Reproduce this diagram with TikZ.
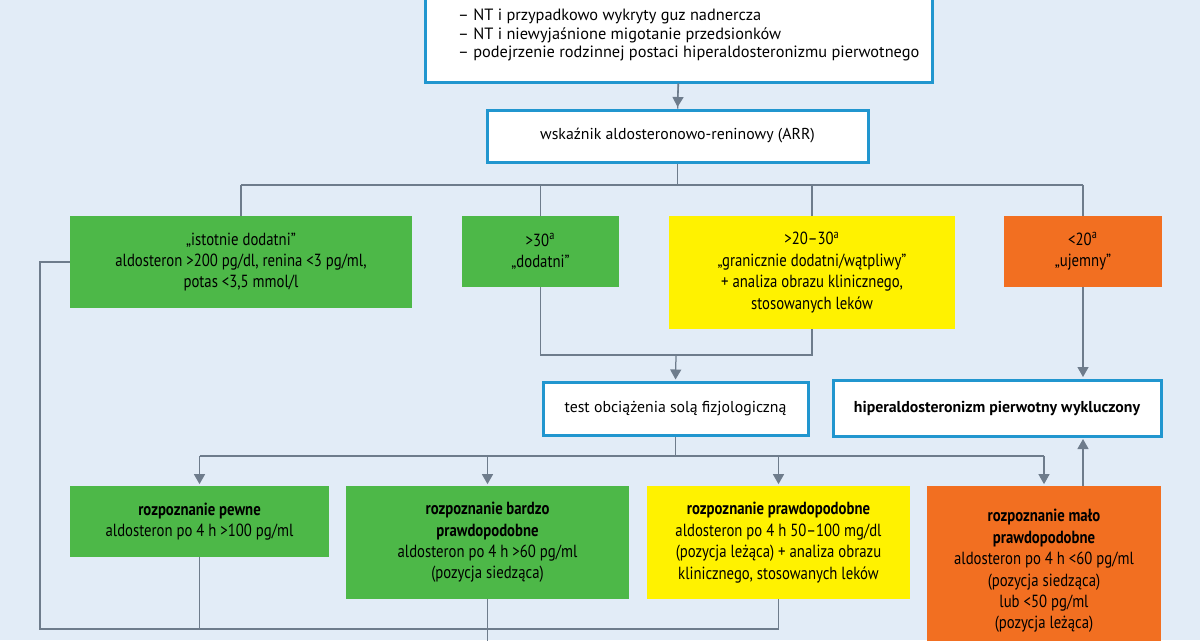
\documentclass[tikz,border=0pt]{standalone}
\usepackage{fontspec}
\setmainfont{PT Sans}
\newfontfamily\condfont{PT Sans}[FakeStretch=0.84]
\usepackage{tikz}
\usetikzlibrary{arrows.meta, calc}
\definecolor{bgblue}{HTML}{E2ECF7}
\definecolor{frameblue}{HTML}{2196CF}
\definecolor{boxgreen}{HTML}{4DB848}
\definecolor{boxyellow}{HTML}{FFF200}
\definecolor{boxorange}{HTML}{F26F21}
\definecolor{linegray}{HTML}{6E7C8C}
\tikzset{
    whitebox/.style={draw=frameblue, line width=0.6mm, fill=white, align=center,
        inner sep=0pt, font=\fontsize{9}{12}\selectfont},
    colbox/.style={fill=#1, align=center, inner sep=0pt,
        font=\condfont\fontsize{10}{12.2}\selectfont},
    link/.style={draw=linegray, line width=0.25mm},
    arrow/.style={link, -{Triangle[width=2.2mm,length=2mm]}, shorten >=0.3mm}
}
\begin{document}
\begin{tikzpicture}[x=0.02cm, y=-0.02cm]
    \fill[bgblue] (0,0) rectangle (1200,640);
    \useasboundingbox (0,0) rectangle (1200,640);

    % white boxes
    \node[whitebox, minimum width=507*0.02cm, minimum height=140*0.02cm] (start) at (678.5,12) {};
    \node[anchor=west, align=left, font=\fontsize{9.3}{10.6}\selectfont] (startlist) at (452,35)
        {– NT i przypadkowo wykryty guz nadnercza\\
         – NT i niewyjaśnione migotanie przedsionków\\
         – podejrzenie rodzinnej postaci hiperaldosteronizmu pierwotnego};
    \node[whitebox, minimum width=381*0.02cm, minimum height=52*0.02cm] (arr) at (677.5,136)
        {wskaźnik aldosteronowo-reninowy (ARR)};
    \node[whitebox, minimum width=265*0.02cm, minimum height=53*0.02cm] (test) at (675.5,409)
        {test obciążenia solą fizjologiczną};
    \node[whitebox, minimum width=328*0.02cm, minimum height=56*0.02cm, font=\bfseries\fontsize{9}{12}\selectfont] (excl) at (997,408)
        {hiperaldosteronizm pierwotny wykluczony};

    % ARR results
    \node[colbox=boxgreen, minimum width=342*0.02cm, minimum height=92*0.02cm] (sig) at (241,262)
        {„istotnie dodatni”\\aldosteron >200 pg/dl, renina <3 pg/ml,\\potas <3,5 mmol/l};
    \node[colbox=boxgreen, minimum width=157*0.02cm, minimum height=71*0.02cm] (pos) at (540.5,251.5)
        {>30\textsuperscript{a}\\„dodatni”};
    \node[colbox=boxyellow, minimum width=286*0.02cm, minimum height=113*0.02cm] (bord) at (812,272.5)
        {>20–30\textsuperscript{a}\\„granicznie dodatni/wątpliwy”\\+ analiza obrazu klinicznego,\\stosowanych leków};
    \node[colbox=boxorange, minimum width=158*0.02cm, minimum height=71*0.02cm] (neg) at (1083,251.5)
        {<20\textsuperscript{a}\\„ujemny”};

    % test results
    \node[colbox=boxgreen, minimum width=259*0.02cm, minimum height=71*0.02cm] (sure) at (199.5,521.5)
        {\textbf{rozpoznanie pewne}\\aldosteron po 4 h >100 pg/ml};
    \node[colbox=boxgreen, minimum width=283*0.02cm, minimum height=113*0.02cm] (vlik) at (487.5,542.5)
        {\textbf{rozpoznanie bardzo}\\\textbf{prawdopodobne}\\aldosteron po 4 h >60 pg/ml\\(pozycja siedząca)};
    \node[colbox=boxyellow, minimum width=263*0.02cm, minimum height=113*0.02cm] (lik) at (778.5,542.5)
        {\textbf{rozpoznanie prawdopodobne}\\aldosteron po 4 h 50–100 mg/dl\\(pozycja leżąca) + analiza obrazu\\klinicznego, stosowanych leków};
    \node[colbox=boxorange, minimum width=234*0.02cm, minimum height=170*0.02cm] (unlik) at (1044,571)
        {\textbf{rozpoznanie mało}\\\textbf{prawdopodobne}\\aldosteron po 4 h <60 pg/ml\\(pozycja siedząca)\\lub <50 pg/ml\\(pozycja leżąca)};

    % helper points
    \coordinate (split1) at (677.5,185);
    \coordinate (join1) at (676,355);
    \coordinate (split2) at (675.5,456);
    \coordinate (leftbus) at (40,629);
    \coordinate (down) at (487.5,645);

    % ARR to results
    \draw[link] (start) -- (arr);
    \draw[arrow] (start.south) -- (arr.north);
    \draw[link] (arr.south) -- (split1);
    \draw[link] (sig.north |- split1) -- (neg.north |- split1);
    \foreach \n in {sig, pos, bord, neg}
        \draw[link] (\n.north |- split1) -- (\n.north);

    % into saline test
    \draw[link] (pos.south) |- (join1) -| (bord.south);
    \draw[arrow] (join1) -- (test.north);
    \draw[arrow] (neg.south) -- (excl.north -| neg.south);

    % test to results
    \draw[link] (test.south) -- (split2);
    \draw[link] (sure.north |- split2) -- (split2 -| unlik.north);
    \foreach \n in {sure, vlik, lik, unlik}
        \draw[arrow] (\n.north |- split2) -- (\n.north);
    \draw[arrow] (unlik.north -| neg.south) -- (excl.south -| neg.south);

    % collecting line
    \draw[link] (sig.west) -| (leftbus) -| (lik.south);
    \draw[link] (sure.south) -- (sure.south |- leftbus);
    \draw[link] (vlik.south) -- (down);
\end{tikzpicture}
\end{document}
